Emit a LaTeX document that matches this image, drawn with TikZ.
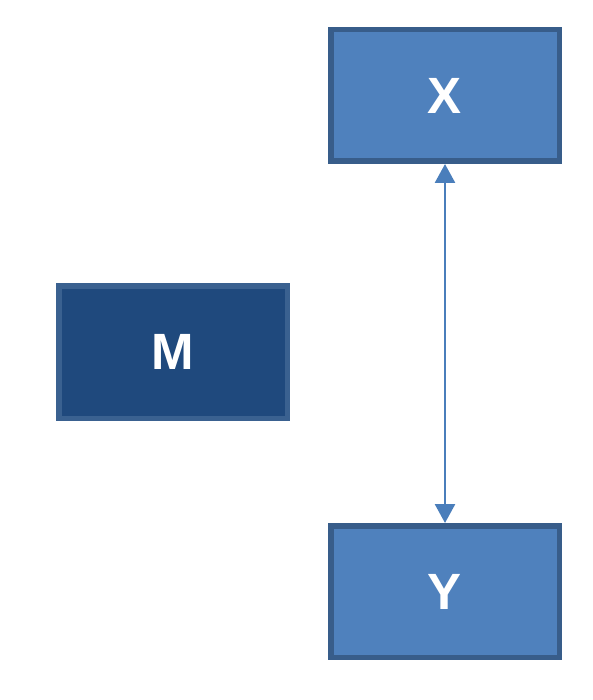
\documentclass[tikz,border=0pt]{standalone}
\usepackage{fontspec}
\setmainfont{Liberation Sans}
\usetikzlibrary{arrows.meta}
\definecolor{boxfill}{HTML}{4F81BD}
\definecolor{boxline}{HTML}{385D8A}
\definecolor{darkfill}{HTML}{1F497D}
\definecolor{darkline}{HTML}{3A6190}
\definecolor{linkcol}{HTML}{4A7EBB}
\tikzset{
  varbox/.style={draw=boxline, fill=boxfill, line width=5.5pt, inner sep=0pt,
    minimum width=228.5pt, minimum height=131.5pt, text=white,
    font=\fontsize{51}{56}\selectfont\bfseries},
  medbox/.style={varbox, draw=darkline, fill=darkfill, minimum height=132.5pt},
  link/.style={draw=linkcol, line width=2.7pt,
    {Triangle[length=19pt,width=20pt]}-{Triangle[length=19pt,width=20pt]}}
}
\begin{document}
\begin{tikzpicture}[x=1pt,y=-1pt]
  \useasboundingbox (0,0) rectangle (592,700);
  \node[varbox] (x) at (445,95.5) {X};
  \node[medbox] (m) at (173,352) {M};
  \node[varbox] (y) at (445,591.5) {Y};
  \draw[link] (x.south) -- (y.north);
\end{tikzpicture}
\end{document}
